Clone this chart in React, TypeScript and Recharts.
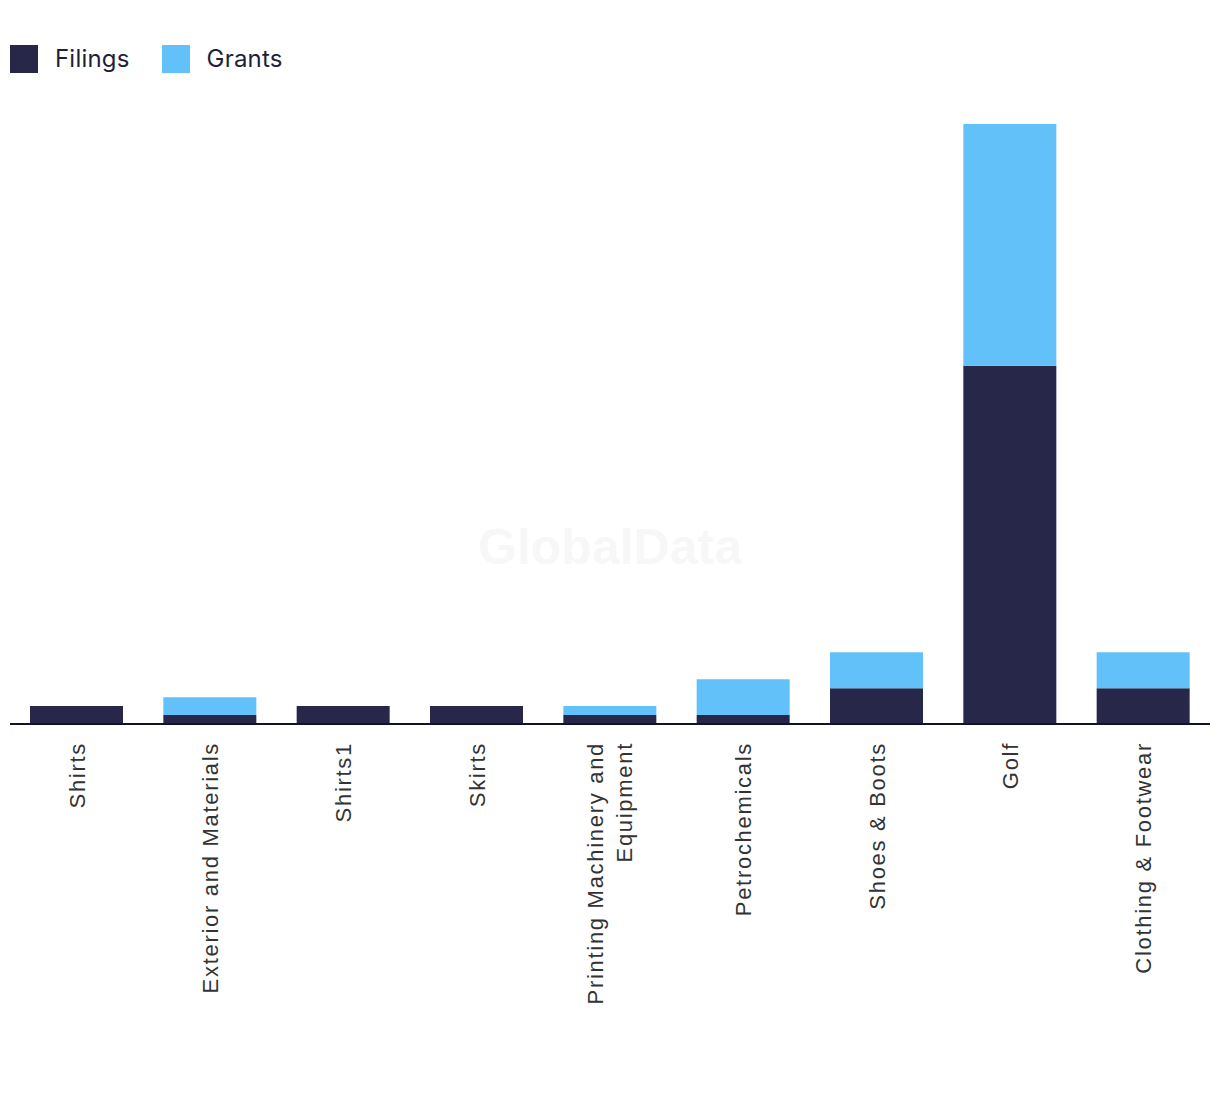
import { BarChart, Bar, XAxis, YAxis } from "recharts";

const categories = [
  "Shirts",
  "Exterior and Materials",
  "Shirts1",
  "Skirts",
  "Printing Machinery and Equipment",
  "Petrochemicals",
  "Shoes & Boots",
  "Golf",
  "Clothing & Footwear",
];
const filings = [2, 1, 2, 2, 1, 1, 4, 40, 4];
const grants = [0, 2, 0, 0, 1, 4, 4, 27, 4];

const data = categories.map((name, i) => ({
  name,
  filings: filings[i],
  grants: grants[i],
}));

const NAVY = "#272849";
const SKY = "#63c1f9";

// wrap long labels onto two lines, like the original
function wrap(label: string, max = 24) {
  const words = label.split(" ");
  const lines: string[] = [];
  let cur = "";
  for (const w of words) {
    const next = cur ? cur + " " + w : w;
    if (next.length > max && cur) {
      lines.push(cur);
      cur = w;
    } else cur = next;
  }
  if (cur) lines.push(cur);
  return lines;
}

function RotatedTick({ x, y, payload }: any) {
  const lines = wrap(payload.value);
  const lh = 29;
  const start = -((lines.length - 1) * lh) / 2;
  return (
    <g transform={`translate(${x},${y + 10}) rotate(-90)`}>
      {lines.map((l, i) => (
        <text
          key={i}
          x={0}
          y={start + i * lh}
          dy="0.36em"
          textAnchor="end"
          fill="#333"
          fontSize={22}
          letterSpacing={1.7}
          fontFamily="'Liberation Sans', Arial, sans-serif"
        >
          {l}
        </text>
      ))}
    </g>
  );
}

function LegendItem({ color, label }: { color: string; label: string }) {
  return (
    <div style={{ display: "flex", alignItems: "center", marginRight: 32 }}>
      <div style={{ width: 28, height: 28, background: color, marginRight: 17 }} />
      <span
        style={{
          fontSize: 24,
          lineHeight: "28px",
          color: "#1e1f3b",
          fontFamily: "Inter, sans-serif",
          letterSpacing: 0.2,
        }}
      >
        {label}
      </span>
    </div>
  );
}

export default function App() {
  return (
    <div
      style={{
        position: "absolute",
        left: 0,
        top: 0,
        width: 1220,
        height: 1094,
        background: "#fff",
      }}
    >
      <div
        style={{
          position: "absolute",
          left: 10,
          top: 45,
          display: "flex",
          height: 28,
        }}
      >
        <LegendItem color={NAVY} label="Filings" />
        <LegendItem color={SKY} label="Grants" />
      </div>
      <div
        style={{
          position: "absolute",
          left: 0,
          width: 1220,
          top: 518,
          textAlign: "center",
          fontFamily: "'Liberation Sans', Arial, sans-serif",
          fontWeight: 700,
          fontSize: 50,
          color: "#f7f7f7",
          pointerEvents: "none",
        }}
      >
        GlobalData
      </div>
      <BarChart
        width={1220}
        height={1094}
        data={data}
        margin={{ top: 124, right: 10, left: 10, bottom: 0 }}
        barCategoryGap="15%"
      >
        <YAxis hide domain={[0, "dataMax"]} />
        <Bar dataKey="filings" stackId="a" fill={NAVY} isAnimationActive={false} />
        <Bar dataKey="grants" stackId="a" fill={SKY} isAnimationActive={false} />
        <XAxis
          dataKey="name"
          height={370}
          interval={0}
          tickLine={false}
          axisLine={{ stroke: "#12132a", strokeWidth: 2 }}
          tick={<RotatedTick />}
        />
      </BarChart>
    </div>
  );
}
